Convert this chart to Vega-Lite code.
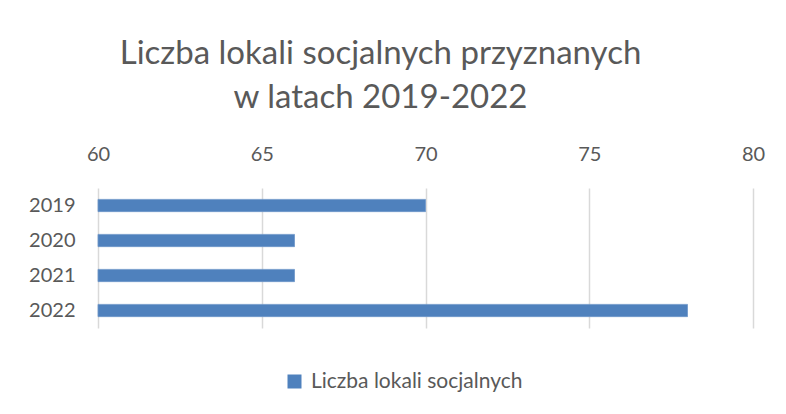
{
  "$schema": "https://vega.github.io/schema/vega-lite/v6.json",
  "autosize": "none",
  "width": 655,
  "height": 140,
  "padding": {"left": 98, "top": 188, "right": 33, "bottom": 86},
  "background": "white",
  "title": {
    "text": ["Liczba lokali socjalnych przyznanych", "w latach 2019-2022"],
    "font": "Lato",
    "fontSize": 33,
    "fontWeight": "normal",
    "color": "#595959",
    "lineHeight": 44,
    "anchor": "middle",
    "dx": -45,
    "offset": 29
  },
  "data": {
    "values": [
      {"rok": "2019", "liczba": 70},
      {"rok": "2020", "liczba": 66},
      {"rok": "2021", "liczba": 66},
      {"rok": "2022", "liczba": 78}
    ]
  },
  "mark": {"type": "bar", "color": "#4f81bd", "stroke": "#6e97c9", "strokeWidth": 0.8},
  "encoding": {
    "y": {
      "field": "rok",
      "type": "nominal",
      "sort": null,
      "scale": {"paddingInner": 0.65, "paddingOuter": 0.325},
      "axis": {
        "title": null,
        "ticks": false,
        "domain": false,
        "labelFont": "Lato",
        "labelFontSize": 20,
        "labelColor": "#595959",
        "labelPadding": 23
      }
    },
    "x": {
      "field": "liczba",
      "type": "quantitative",
      "scale": {"domain": [60, 80], "zero": false, "nice": false},
      "axis": {
        "orient": "top",
        "title": null,
        "values": [60, 65, 70, 75, 80],
        "ticks": false,
        "domain": false,
        "grid": true,
        "gridColor": "#d9d9d9",
        "gridWidth": 1.5,
        "labelFlush": false,
        "labelFont": "Lato",
        "labelFontSize": 20,
        "labelColor": "#595959",
        "labelPadding": 24
      }
    },
    "x2": {"datum": 60},
    "color": {
      "datum": "Liczba lokali socjalnych",
      "scale": {"range": ["#4f81bd"]},
      "legend": {
        "title": null,
        "orient": "none",
        "legendX": 186,
        "legendY": 183,
        "direction": "horizontal",
        "symbolType": "square",
        "symbolSize": 196,
        "symbolStrokeWidth": 0,
        "labelFont": "Lato",
        "labelFontSize": 21,
        "labelColor": "#595959",
        "labelOffset": 6,
        "labelLimit": 400
      }
    }
  },
  "config": {"view": {"stroke": null}}
}
